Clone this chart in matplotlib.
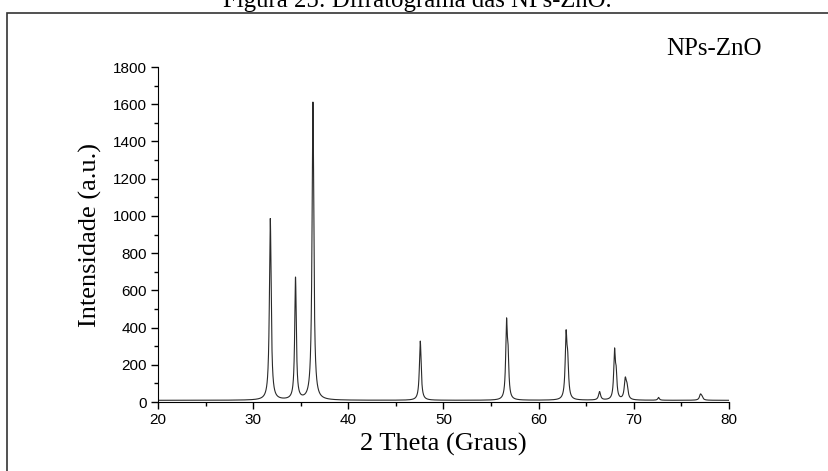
import numpy as np
import matplotlib.pyplot as plt
from matplotlib.patches import Rectangle
from matplotlib.ticker import MultipleLocator

# peaks (2theta in degrees, height, FWHM)
peak_pos = [31.8, 34.45, 36.28, 47.56, 56.62, 56.78, 62.88, 63.05, 66.4, 67.97, 68.14, 69.1, 69.28, 72.6, 77.0, 77.15]
peak_height = [975, 655, 1600, 318, 385, 200, 327, 170, 45, 248, 120, 102, 60, 15, 28, 15]
peak_fwhm = [0.22, 0.2, 0.22, 0.22, 0.2, 0.2, 0.22, 0.22, 0.25, 0.2, 0.2, 0.25, 0.25, 0.2, 0.25, 0.25]
baseline = 9

xticks = [20, 30, 40, 50, 60, 70, 80]
yticks = [0, 200, 400, 600, 800, 1000, 1200, 1400, 1600, 1800]

# build the pattern from the peak list (lorentzian profiles)
theta = np.linspace(20, 80, 6001)
inten = np.full_like(theta, baseline, dtype=float)
for p, h, w in zip(peak_pos, peak_height, peak_fwhm):
    g = w / 2
    inten += h * g**2 / ((theta - p)**2 + g**2)

fig = plt.figure(figsize=(8.29, 4.71), dpi=100)
ax = fig.add_axes([158 / 829, 1 - 402 / 471, 571 / 829, 335 / 471])

ax.plot(theta, inten, color='#2a2a2a', lw=0.8)

ax.set_xlim(20, 80)
ax.set_ylim(0, 1800)
ax.set_xticks(xticks)
ax.set_yticks(yticks)
ax.xaxis.set_minor_locator(MultipleLocator(5))
ax.yaxis.set_minor_locator(MultipleLocator(100))
ax.spines['top'].set_visible(False)
ax.spines['right'].set_visible(False)
ax.tick_params(which='major', direction='out', length=5, width=1, labelsize=11, pad=3)
ax.tick_params(which='minor', direction='out', length=3, width=1)
for lab in ax.get_xticklabels() + ax.get_yticklabels():
    lab.set_family('Liberation Sans')

ax.set_xlabel('2 Theta (Graus)', family='Liberation Serif', fontsize=19, labelpad=4)
ax.set_ylabel('Intensidade (a.u.)', family='Liberation Serif', fontsize=19, labelpad=8)

# caption (cut at the top) and the frame round the figure
fig.text(0.503, 1 - 7 / 471, 'Figura 25: Difratograma das NPs-ZnO.', family='Liberation Serif',
         fontsize=17.8, ha='center', va='baseline')
fig.patches.append(Rectangle((7 / 829, -0.05), 1, 1 - 12.5 / 471 + 0.05, transform=fig.transFigure,
                             fill=False, edgecolor='#333333', lw=1.2))
fig.text(762 / 829, 1 - 55 / 471, 'NPs-ZnO', family='Liberation Serif', fontsize=18,
         ha='right', va='baseline')

fig.savefig('out.png', dpi=100)
